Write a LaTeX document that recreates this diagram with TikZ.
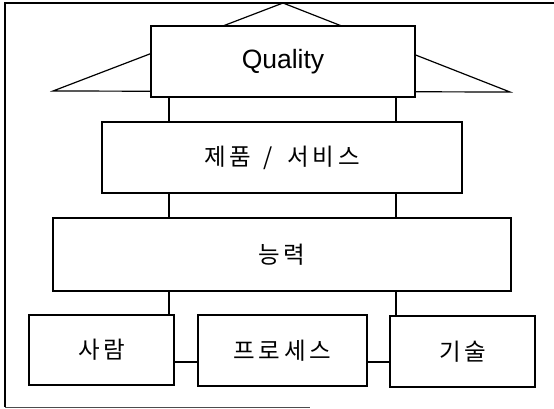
\documentclass[tikz,border=0pt]{standalone}
\usepackage{fontspec}
\setmainfont{Liberation Sans}
\newfontfamily\kr{Noto Sans CJK KR}[LetterSpace=16]
\begin{document}
\begin{tikzpicture}[x=1pt,y=-1pt,
  box/.style={draw,line width=1.2pt,fill=white,rectangle,inner sep=0pt,outer sep=0pt},
  conn/.style={line width=1.2pt},
  krtext/.style={font=\kr\fontsize{23.5}{28}\selectfont},
  entext/.style={font=\fontsize{26.5}{31}\selectfont}]
\useasboundingbox (0,0) rectangle (554,409);
% outer frame
\draw[line width=1.1pt] (554,3) -- (5,3) -- (5,407);
\draw[line width=0.8pt,black!70] (5,407) -- (310,407);
% roof
\coordinate (apex) at (283,3);
\coordinate (bl) at (53,91);
\coordinate (br) at (510,92);
\draw[line width=1.2pt,line join=miter] (bl) -- (apex) -- (br) -- cycle;
% boxes
\node[box,entext,minimum width=264pt,minimum height=71pt] (q) at (283,61.5) {Quality};
\node[box,krtext,minimum width=360pt,minimum height=71pt] (s) at (282,157.5) {제품\hspace{3pt} / \hspace{6pt}서비스};
\node[box,krtext,minimum width=458pt,minimum height=73pt] (n) at (282,254.5) {능력};
\node[box,krtext,minimum width=145pt,minimum height=70pt] (p) at (101.5,350) {사람};
\node[box,krtext,minimum width=169pt,minimum height=71pt] (pr) at (282.5,350.5) {프로세스};
\node[box,krtext,minimum width=145pt,minimum height=71pt] (t) at (462.5,351.5) {기술};
% connector guides
\coordinate (L) at (169,0);
\coordinate (R) at (396,0);
\coordinate (H) at (0,362);
\draw[conn] (q.south -| L) -- (s.north -| L);
\draw[conn] (q.south -| R) -- (s.north -| R);
\draw[conn] (s.south -| L) -- (n.north -| L);
\draw[conn] (s.south -| R) -- (n.north -| R);
\draw[conn] (n.south -| L) -- (p.north -| L);
\draw[conn] (n.south -| R) -- (t.north -| R);
\draw[conn] (p.east |- H) -- (pr.west |- H);
\draw[conn] (pr.east |- H) -- (t.west |- H);
\end{tikzpicture}
\end{document}
